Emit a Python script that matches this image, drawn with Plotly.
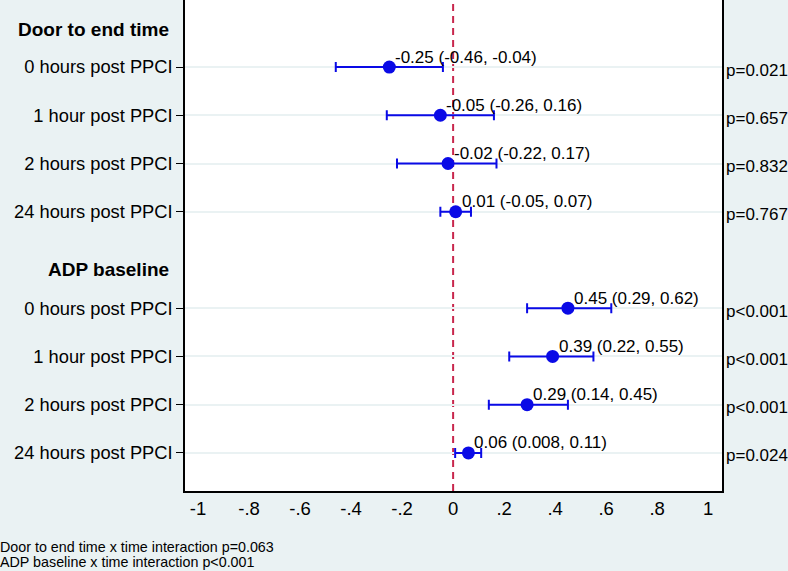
import plotly.graph_objects as go

# Row labels, estimates and 95% CIs (rows 0-3: door to end time, rows 5-8: ADP baseline)
group_titles = ["Door to end time", "ADP baseline"]
row_labels = [
    "0 hours post PPCI", "1 hour post PPCI", "2 hours post PPCI", "24 hours post PPCI",
    "0 hours post PPCI", "1 hour post PPCI", "2 hours post PPCI", "24 hours post PPCI",
]
row_pos = [0, 1, 2, 3, 5, 6, 7, 8]
estimates = [-0.25, -0.05, -0.02, 0.01, 0.45, 0.39, 0.29, 0.06]
ci_low = [-0.46, -0.26, -0.22, -0.05, 0.29, 0.22, 0.14, 0.008]
ci_high = [-0.04, 0.16, 0.17, 0.07, 0.62, 0.55, 0.45, 0.11]
est_text = [
    "-0.25 (-0.46, -0.04)", "-0.05 (-0.26, 0.16)", "-0.02 (-0.22, 0.17)", "0.01 (-0.05, 0.07)",
    "0.45 (0.29, 0.62)", "0.39 (0.22, 0.55)", "0.29 (0.14, 0.45)", "0.06 (0.008, 0.11)",
]
p_values = ["p=0.021", "p=0.657", "p=0.832", "p=0.767", "p<0.001", "p<0.001", "p<0.001", "p=0.024"]
x_ticks = [-1, -0.8, -0.6, -0.4, -0.2, 0, 0.2, 0.4, 0.6, 0.8, 1]
x_ticktext = ["-1", "-.8", "-.6", "-.4", "-.2", "0", ".2", ".4", ".6", ".8", "1"]
footnotes = ["Door to end time x time interaction p=0.063", "ADP baseline x time interaction p<0.001"]

BG = "#EAF2F3"
BLUE = "#0A0AE6"
FONT = "Liberation Sans, Arial, sans-serif"

fig = go.Figure()

fig.add_trace(
    go.Scatter(
        x=estimates,
        y=row_pos,
        mode="markers",
        marker={"color": BLUE, "size": 13},
        error_x={
            "type": "data",
            "symmetric": False,
            "array": [h - e for h, e in zip(ci_high, estimates)],
            "arrayminus": [e - l for e, l in zip(estimates, ci_low)],
            "color": BLUE,
            "thickness": 2,
            "width": 5,
        },
        showlegend=False,
        hoverinfo="skip",
    )
)

# reference line at zero
fig.add_vline(x=0, line={"color": "#C8264C", "width": 2, "dash": "7px,5px"}, layer="below")

# estimate labels
for x, y, t in zip(estimates, row_pos, est_text):
    fig.add_annotation(
        x=x, y=y, text=t, showarrow=False, xanchor="left", yanchor="middle",
        xshift=4, yshift=10, font={"size": 17, "color": "black", "family": FONT},
    )

# p-values on the right
for y, p in zip(row_pos, p_values):
    fig.add_annotation(
        x=1, xref="paper", y=y, text=p, showarrow=False, xanchor="left", yanchor="middle",
        xshift=2, yshift=-3, font={"size": 17, "color": "black", "family": FONT},
    )

# group headers
for y, t in zip([-0.77, 4.2], group_titles):
    fig.add_annotation(
        x=0, xref="paper", y=y, text=f"<b>{t}</b>", showarrow=False, xanchor="right",
        yanchor="middle", xshift=-14, font={"size": 19, "color": "black", "family": FONT},
    )

# footnotes
for i, t in enumerate(footnotes):
    fig.add_annotation(
        x=0, xref="paper", xanchor="left", y=0, yref="paper", yanchor="top",
        text=t, showarrow=False, xshift=-187, yshift=-46 - i * 15,
        font={"size": 14.3, "color": "black", "family": FONT},
    )

fig.update_layout(
    width=788,
    height=571,
    autosize=False,
    margin={"l": 185, "r": 66, "t": 0, "b": 80},
    paper_bgcolor=BG,
    plot_bgcolor="white",
    font={"family": FONT, "color": "black"},
    xaxis={
        "range": [-1.051, 1.054],
        "tickvals": x_ticks,
        "ticktext": x_ticktext,
        "showgrid": False,
        "zeroline": False,
        "showline": True,
        "linecolor": "black",
        "linewidth": 1.5,
        "ticks": "",
        "tickfont": {"size": 18.5},
    },
    yaxis={
        "range": [8.79, -1.39],
        "tickvals": row_pos,
        "ticktext": row_labels,
        "showgrid": True,
        "gridcolor": BG,
        "gridwidth": 2,
        "zeroline": False,
        "showline": True,
        "mirror": True,
        "linecolor": "black",
        "linewidth": 1.5,
        "ticks": "outside",
        "ticklen": 7,
        "tickcolor": "black",
        "tickwidth": 1.2,
        "tickfont": {"size": 18.3},
    },
)

fig.write_html(
    "out.html",
    config={"displayModeBar": False},
    post_script="document.body.style.margin='0';",
)
